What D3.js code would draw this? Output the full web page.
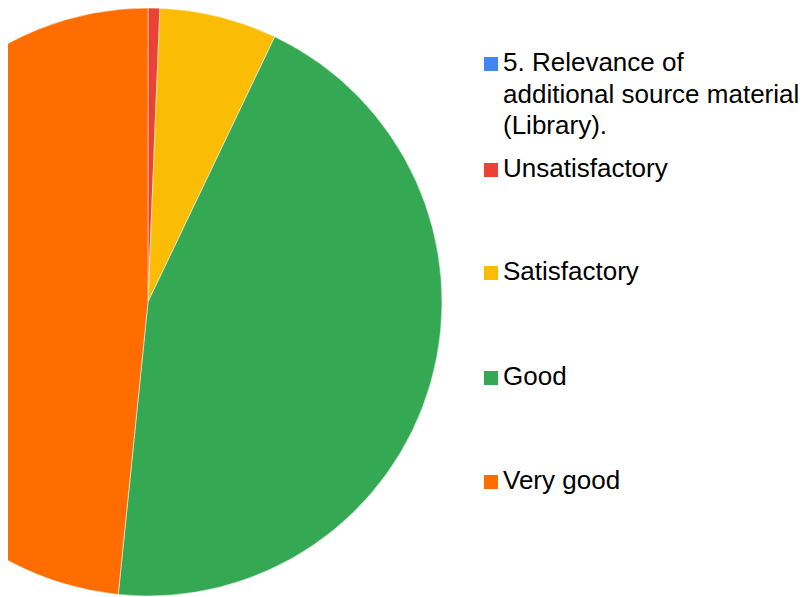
<!DOCTYPE html>
<html><head><meta charset="utf-8">
<script src="https://cdn.jsdelivr.net/npm/d3@7"></script>
<style>body{margin:0;background:#fff}svg{display:block}</style>
</head><body>
<svg id="c" width="812" height="597"></svg>
<script>
const categories = ["5. Relevance of additional source material (Library).", "Unsatisfactory", "Satisfactory", "Good", "Very good"];
const values = [0, 1, 10, 69, 75];
const colors = ["#4285F4", "#EA4335", "#FBBC04", "#34A853", "#FF6D01"];
const legendLines = [["5. Relevance of", "additional source material", "(Library)."], ["Unsatisfactory"], ["Satisfactory"], ["Good"], ["Very good"]];

const svg = d3.select("#c");
const cx = 148, cy = 302, r = 294;
svg.append("defs").append("clipPath").attr("id","clip")
  .append("rect").attr("x",8).attr("y",0).attr("width",804).attr("height",597);

const data = categories.map((c,i)=>({cat:c, value:values[i], color:colors[i]}));
const pie = d3.pie().sort(null).value(d=>d.value);
const arc = d3.arc().innerRadius(0).outerRadius(r);
const g = svg.append("g").attr("clip-path","url(#clip)")
  .append("g").attr("transform",`translate(${cx},${cy})`);
g.selectAll("path").data(pie(data).filter(d=>d.data.value>0)).join("path")
  .attr("d",arc).attr("fill",d=>d.data.color)
  .attr("stroke","#fff").attr("stroke-width",0.5);

const baselines = [71, 177, 280, 385, 489];
const lg = svg.append("g").attr("font-family","'Liberation Sans', Arial, sans-serif").attr("font-size",26).attr("fill","#000");
data.forEach((d,i)=>{
  const b = baselines[i];
  lg.append("rect").attr("x",484).attr("y",b-14).attr("width",14).attr("height",14).attr("fill",d.color);
  const t = lg.append("text").attr("x",503).attr("y",b);
  legendLines[i].forEach((ln,j)=>{
    t.append("tspan").attr("x",503).attr("y",b + j*31.5).text(ln);
  });
});
</script>
</body></html>
